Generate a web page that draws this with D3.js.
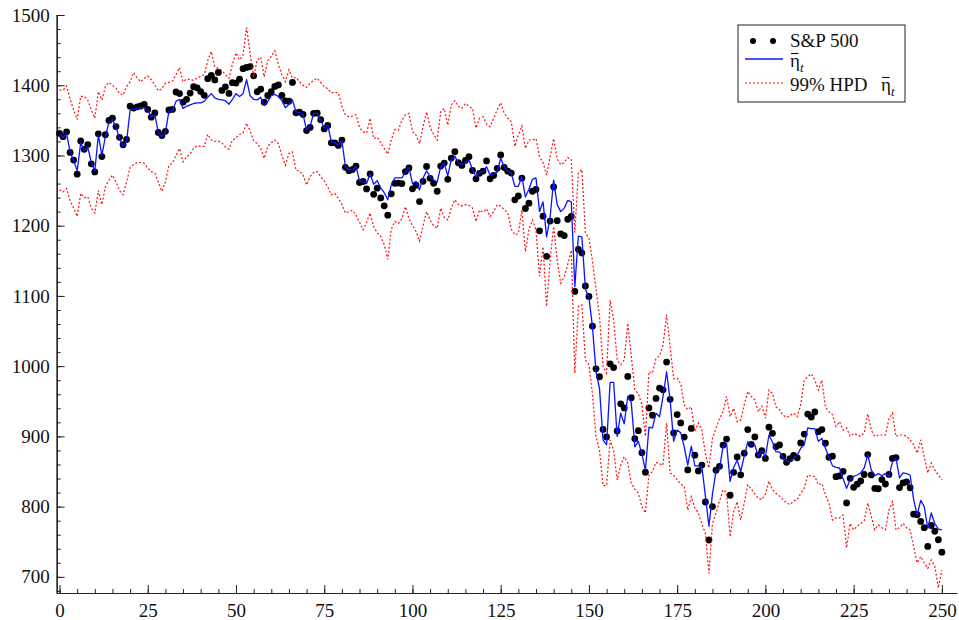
<!DOCTYPE html>
<html>
<head>
<meta charset="utf-8">
<script src="https://cdn.jsdelivr.net/npm/d3@7"></script>
<style>
  html, body { margin: 0; padding: 0; background: #fff; }
  svg { display: block; }
</style>
</head>
<body>
<div id="chart"></div>
<script>
// S&P 500 closes, filtered level (eta bar) and its 99% HPD band, one value per trading day
const spx = [
  1331.34,1326.75,1333.70,1304.34,1293.37,1273.37,1320.65,1308.77,1315.48,1288.14,
  1276.60,1330.74,1298.42,1329.51,1349.88,1352.99,1341.13,1325.76,1315.22,1322.70,
  1370.18,1367.53,1369.31,1370.40,1372.54,1365.54,1354.49,1360.55,1332.83,1328.32,
  1334.43,1364.71,1365.56,1390.33,1388.17,1375.94,1379.93,1388.82,1397.84,1396.37,
  1390.94,1385.59,1409.34,1413.90,1407.49,1418.26,1392.57,1397.68,1388.28,1403.58,
  1403.04,1408.66,1423.57,1425.35,1426.63,1413.40,1390.71,1394.35,1375.93,1385.35,
  1390.84,1398.26,1400.38,1385.67,1377.65,1377.20,1404.05,1360.68,1361.76,1358.44,
  1335.49,1339.87,1360.03,1360.14,1350.93,1337.81,1342.83,1317.93,1318.00,1314.29,
  1321.97,1283.15,1278.38,1280.00,1284.91,1261.52,1262.90,1252.31,1273.70,1244.69,
  1253.39,1239.49,1228.30,1214.91,1245.36,1260.32,1260.68,1260.00,1277.00,1282.19,
  1252.54,1257.76,1234.37,1263.20,1284.26,1267.38,1260.31,1249.01,1284.88,1289.19,
  1266.07,1296.32,1305.32,1289.59,1285.83,1292.93,1298.20,1278.60,1266.69,1274.54,
  1277.72,1292.20,1266.84,1271.51,1281.66,1300.68,1282.83,1277.58,1274.98,1236.83,
  1242.31,1267.79,1224.51,1232.04,1249.05,1251.70,1192.70,1213.60,1156.39,1206.51,
  1255.08,1207.09,1188.22,1185.87,1209.18,1213.27,1106.42,1166.36,1161.06,1114.28,
  1099.23,1056.89,996.23,984.94,909.92,899.22,1003.35,998.01,907.84,946.43,
  940.55,985.40,955.05,896.78,908.11,876.77,848.92,940.51,930.09,954.09,
  968.75,966.30,1005.75,952.77,904.88,930.99,919.21,898.95,852.30,911.29,
  873.29,850.75,859.12,806.58,752.44,800.03,851.81,857.39,887.68,896.24,
  816.21,848.81,870.74,845.22,876.07,909.70,888.67,899.24,873.59,879.73,
  868.57,913.18,904.42,885.28,887.88,871.63,863.16,868.15,872.80,869.42,
  890.64,903.25,931.80,927.45,934.70,906.65,909.73,890.35,870.26,871.79,
  842.62,843.74,850.12,805.22,840.24,827.50,831.95,836.57,845.71,874.09,
  845.14,825.88,825.44,838.51,832.23,845.85,868.60,869.89,827.16,833.74,
  835.19,826.84,789.17,788.42,778.94,770.05,743.33,773.14,764.90,752.83,
  735.09
];

const etaBar = [
  1331,1326,1331,1305,1293,1278,1318,1307,1312,1290,
  1278,1329,1300,1327,1347,1351,1340,1324,1313,1320,
  1365,1366,1367,1368,1368,1364,1355,1358,1333,1327,
  1333,1363,1364,1377,1380,1367,1370,1372,1374,1375,
  1375,1377,1383,1388,1382,1380,1379,1378,1373,1380,
  1388,1384,1388,1408,1385,1380,1379,1383,1371,1377,
  1385,1387,1384,1378,1368,1373,1379,1362,1361,1358,
  1336,1342,1360,1360,1350,1339,1343,1320,1318,1315,
  1321,1284,1279,1280,1284,1264,1263,1260,1274,1259,
  1264,1254,1247,1237,1258,1268,1268,1268,1276,1283,
  1260,1263,1251,1268,1278,1270,1265,1262,1284,1289,
  1271,1294,1299,1289,1287,1290,1294,1280,1270,1276,
  1277,1284,1272,1274,1276,1296,1284,1278,1275,1256,
  1256,1270,1241,1252,1266,1268,1220,1234,1184,1212,
  1265,1230,1220,1225,1236,1234,1113,1185,1184,1110,
  1098,1056,992,968,895,888,977,977,900,933,
  918,957,948,885,893,875,852,913,912,933,
  928,957,992,952,893,909,905,885,859,886,
  858,858,857,815,772,818,851,854,886,890,
  836,856,866,850,872,892,888,888,871,880,
  871,902,892,878,878,869,865,864,869,873,
  883,888,912,911,911,893,897,883,871,858,
  856,855,840,826,838,843,845,848,855,874,
  852,844,847,844,847,843,864,869,841,848,
  847,845,810,788,809,800,769,791,776,768,
  767
];

const hpdHi = [
  1393,1393,1399,1380,1365,1351,1384,1384,1379,1365,
  1353,1391,1379,1398,1404,1400,1396,1388,1386,1398,
  1405,1418,1410,1405,1410,1413,1408,1400,1392,1395,
  1403,1404,1406,1415,1425,1405,1409,1408,1407,1410,
  1413,1415,1435,1448,1426,1424,1421,1415,1410,1430,
  1446,1436,1443,1482,1445,1412,1436,1440,1412,1435,
  1441,1449,1430,1415,1405,1422,1410,1411,1405,1400,
  1397,1403,1407,1410,1404,1398,1395,1389,1390,1389,
  1370,1358,1355,1356,1358,1340,1334,1332,1353,1324,
  1326,1318,1310,1302,1322,1337,1336,1350,1358,1360,
  1334,1329,1317,1341,1362,1340,1330,1322,1362,1367,
  1343,1372,1378,1370,1367,1374,1370,1367,1339,1353,
  1355,1345,1341,1353,1365,1375,1360,1353,1348,1313,
  1329,1342,1310,1322,1322,1324,1298,1290,1272,1298,
  1324,1295,1287,1290,1297,1294,1190,1275,1280,1190,
  1182,1150,1110,1070,1000,990,1094,1066,1009,1002,
  1009,1061,1014,966,961,945,900,992,990,1011,
  1015,1030,1073,1028,982,983,975,945,938,942,
  907,919,909,875,855,897,912,925,935,957,
  928,940,921,923,945,964,957,952,935,943,
  926,966,961,942,938,930,927,930,933,928,
  945,980,985,989,980,966,980,942,935,931,
  914,921,909,912,900,904,902,900,905,932,
  909,900,902,902,902,925,933,900,902,902,
  900,895,888,876,895,871,848,862,852,845,
  838
];

const hpdLo = [
  1251,1248,1253,1235,1225,1213,1246,1240,1241,1225,
  1218,1250,1230,1255,1265,1272,1262,1250,1244,1262,
  1283,1287,1290,1290,1289,1282,1277,1275,1262,1249,
  1262,1286,1289,1300,1310,1291,1298,1302,1310,1314,
  1313,1313,1330,1322,1320,1320,1318,1312,1309,1322,
  1325,1330,1332,1346,1335,1321,1317,1310,1296,1313,
  1318,1322,1317,1300,1286,1303,1305,1279,1278,1272,
  1258,1270,1276,1277,1270,1264,1255,1244,1246,1239,
  1230,1218,1220,1222,1215,1205,1194,1205,1218,1199,
  1190,1185,1173,1152,1195,1206,1203,1210,1227,1210,
  1200,1192,1178,1200,1220,1208,1200,1196,1225,1212,
  1208,1225,1237,1230,1228,1230,1229,1225,1206,1222,
  1219,1224,1213,1220,1230,1228,1223,1218,1195,1187,
  1189,1222,1163,1195,1208,1194,1128,1170,1085,1151,
  1199,1151,1118,1127,1145,1165,990,1085,1087,1009,
  1002,960,900,880,830,830,895,880,838,859,
  871,862,833,825,819,800,791,845,850,863,
  861,859,919,848,845,838,832,829,795,814,
  798,791,775,762,705,776,791,808,824,820,
  757,793,807,781,805,831,825,818,812,810,
  818,836,824,819,815,810,805,803,808,810,
  819,826,845,843,843,831,833,817,805,781,
  784,784,788,741,776,767,772,776,780,805,
  786,767,774,770,767,795,807,767,770,776,
  770,767,743,720,729,720,712,724,715,684,
  710
];

const xMajor = d3.range(0, 251, 25);
const xMinor = d3.range(0, 255, 5);
const yMajor = d3.range(700, 1501, 100);
const yMinor = d3.range(680, 1501, 20);

const W = 959, H = 620;
const FONT = '"Liberation Serif", "DejaVu Serif", "Times New Roman", serif';

const svg = d3.select('#chart').append('svg')
  .attr('width', W).attr('height', H)
  .attr('viewBox', `0 0 ${W} ${H}`);

const x = d3.scaleLinear().domain([-0.8, 254.2]).range([56.7, 956.7]);
const y = d3.scaleLinear().domain([677, 1500]).range([593, 15]);

// ---- axes (ticks point into the plot) ----
const gx = svg.append('g').attr('transform', `translate(0,${y.range()[0]})`);
gx.call(d3.axisBottom(x).tickValues(xMinor).tickSize(-4).tickSizeOuter(0).tickFormat(''));
gx.append('g').call(d3.axisBottom(x).tickValues(xMajor).tickSize(-8).tickSizeOuter(0)
  .tickPadding(10.5).tickFormat(d3.format('d')));

const gy = svg.append('g').attr('transform', `translate(${x.range()[0]},0)`);
gy.call(d3.axisLeft(y).tickValues(yMinor).tickSize(-4).tickSizeOuter(0).tickFormat(''));
gy.append('g').call(d3.axisLeft(y).tickValues(yMajor).tickSize(-8).tickSizeOuter(0)
  .tickPadding(7).tickFormat(d3.format('d')));

svg.selectAll('.domain').attr('stroke', '#222').attr('stroke-width', 1.2);
svg.selectAll('.tick line').attr('stroke', '#222').attr('stroke-width', 1);
svg.selectAll('.tick text')
  .attr('font-family', FONT).attr('font-size', 19).attr('fill', '#111');

// ---- series ----
const idx = d3.range(spx.length);
const line = vals => d3.line().x(i => x(i)).y(i => y(vals[i]))(idx);

const plot = svg.append('g');

plot.selectAll('circle.obs')
  .data(idx).join('circle')
  .attr('class', 'obs')
  .attr('cx', i => x(i)).attr('cy', i => y(spx[i]))
  .attr('r', 3.4)
  .attr('fill', '#000');

plot.append('path')
  .attr('d', line(etaBar))
  .attr('fill', 'none').attr('stroke', '#0a14ff').attr('stroke-width', 1.3)
  .attr('stroke-linejoin', 'round');

[hpdHi, hpdLo].forEach(band => {
  plot.append('path')
    .attr('d', line(band))
    .attr('fill', 'none').attr('stroke', '#ff1010').attr('stroke-width', 1.2)
    .attr('stroke-dasharray', '2,2');
});

// ---- legend ----
const lg = svg.append('g');
lg.append('rect')
  .attr('x', 738).attr('y', 25).attr('width', 167).attr('height', 77)
  .attr('fill', '#fff').attr('stroke', '#222').attr('stroke-width', 1);

[753, 773].forEach(cx => lg.append('circle').attr('cx', cx).attr('cy', 41).attr('r', 3).attr('fill', '#000'));
lg.append('line').attr('x1', 745).attr('x2', 783).attr('y1', 59).attr('y2', 59)
  .attr('stroke', '#0a14ff').attr('stroke-width', 1.3);
lg.append('line').attr('x1', 745).attr('x2', 783).attr('y1', 83).attr('y2', 83)
  .attr('stroke', '#ff1010').attr('stroke-width', 1.2).attr('stroke-dasharray', '2,2');

const txt = (xx, yy, s) => lg.append('text').attr('x', xx).attr('y', yy)
  .attr('font-family', FONT).attr('font-size', 19).attr('fill', '#111').text(s);

// eta with an overbar and an italic subscript t
const etaLabel = (xx, yy) => {
  const t = txt(xx, yy, 'η');
  t.append('tspan').attr('font-size', 13).attr('font-style', 'italic').attr('dy', 5).text('t');
  lg.append('line').attr('x1', xx + 1).attr('x2', xx + 8.5)
    .attr('y1', yy - 13.5).attr('y2', yy - 13.5)
    .attr('stroke', '#111').attr('stroke-width', 1.1);
};

txt(790, 47, 'S&P 500');
etaLabel(790, 67);
txt(790, 91, '99% HPD');
etaLabel(881, 91);
</script>
</body>
</html>
